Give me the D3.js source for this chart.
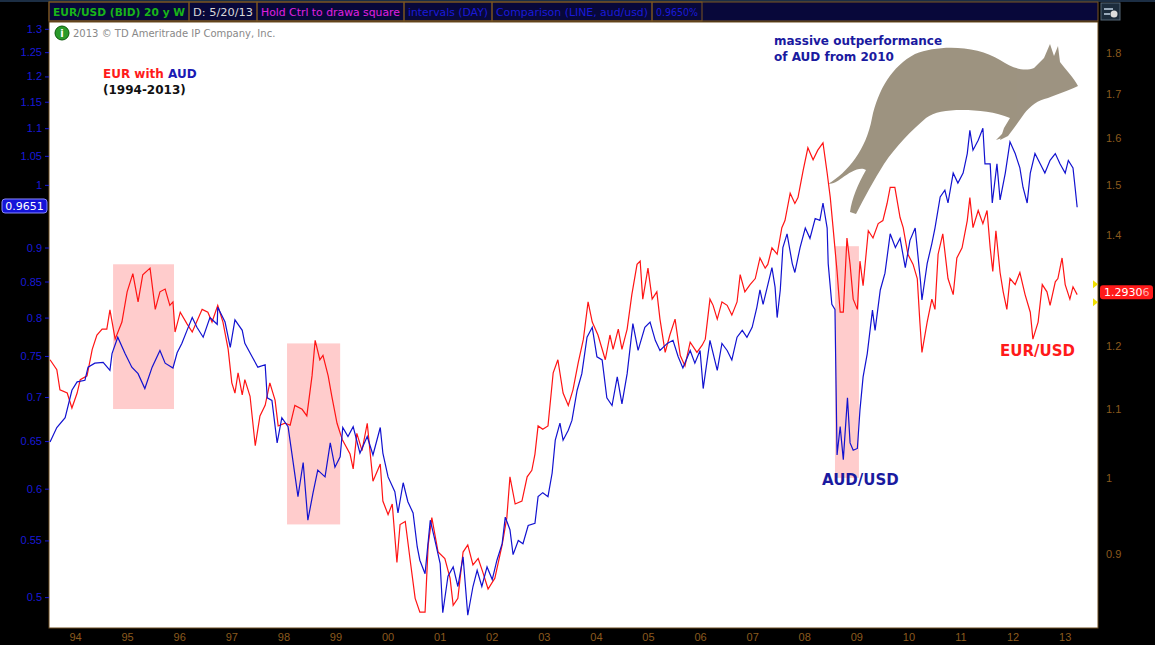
<!DOCTYPE html>
<html>
<head>
<meta charset="utf-8">
<script src="https://cdn.jsdelivr.net/npm/d3@7"></script>
<style>
  body { margin: 0; background: #000; }
  svg { display: block; font-family: "DejaVu Sans", sans-serif; }
</style>
</head>
<body>
<svg width="1155" height="645"></svg>
<script>
// AUD/USD (left axis)
var audYears = [1993.52,1993.65,1993.81,1993.94,1994.04,1994.19,1994.25,1994.38,1994.54,1994.67,1994.71,1994.82,1994.96,1995.09,1995.21,1995.34,1995.48,1995.63,1995.73,1995.88,1995.96,1996.05,1996.15,1996.25,1996.34,1996.46,1996.59,1996.73,1996.74,1996.88,1996.98,1997.07,1997.21,1997.26,1997.40,1997.51,1997.65,1997.69,1997.78,1997.88,1997.97,1998.09,1998.18,1998.28,1998.38,1998.47,1998.57,1998.66,1998.80,1998.90,1998.99,1999.09,1999.14,
  1999.24,1999.34,1999.47,1999.61,1999.72,1999.86,1999.91,2000.01,2000.14,2000.20,2000.30,2000.39,2000.49,2000.57,2000.62,2000.72,2000.82,2000.91,2001.01,2001.06,2001.16,2001.26,2001.35,2001.45,2001.54,2001.64,2001.72,2001.81,2001.91,2002.01,2002.10,2002.20,2002.26,2002.35,2002.41,2002.51,2002.60,2002.70,2002.83,2002.89,2002.98,2003.08,2003.16,2003.22,2003.31,2003.37,2003.47,2003.54,2003.64,2003.73,
  2003.83,2003.93,2004.02,2004.12,2004.21,2004.31,2004.41,2004.50,2004.60,2004.71,2004.81,2004.94,2005.04,2005.14,2005.23,2005.37,2005.48,2005.58,2005.67,2005.81,2005.90,2006.00,2006.06,2006.19,2006.33,2006.42,2006.52,2006.61,2006.71,2006.81,2006.90,2007.00,2007.09,2007.15,2007.21,2007.29,2007.38,2007.44,2007.48,2007.54,2007.59,2007.67,2007.77,2007.82,2007.92,2008.02,2008.11,2008.21,2008.30,2008.36,2008.44,2008.46,2008.53,2008.59,
  2008.63,2008.69,2008.75,2008.83,2008.88,2008.94,2009.02,2009.07,2009.13,2009.21,2009.31,2009.36,2009.46,2009.55,2009.65,2009.75,2009.84,2009.94,2010.03,2010.13,2010.23,2010.26,2010.36,2010.45,2010.51,2010.61,2010.70,2010.76,2010.86,2010.95,2011.05,2011.13,2011.18,2011.24,2011.34,2011.43,2011.47,2011.57,2011.61,2011.70,2011.76,2011.86,2011.95,2012.05,2012.14,2012.20,2012.28,2012.34,2012.43,2012.53,2012.62,2012.72,2012.82,2012.91,2013.01,2013.07,2013.16,2013.20,2013.24]
var audValues = [0.649,0.665,0.676,0.708,0.718,0.720,0.736,0.741,0.742,0.732,0.753,0.774,0.753,0.736,0.728,0.710,0.736,0.757,0.741,0.735,0.754,0.766,0.783,0.800,0.787,0.774,0.800,0.791,0.814,0.794,0.761,0.797,0.783,0.766,0.749,0.736,0.739,0.699,0.696,0.648,0.676,0.666,0.630,0.592,0.627,0.569,0.596,0.619,0.612,0.648,0.622,0.633,0.665,
  0.655,0.666,0.637,0.655,0.635,0.665,0.637,0.612,0.597,0.576,0.606,0.587,0.576,0.544,0.532,0.520,0.569,0.550,0.529,0.487,0.518,0.526,0.509,0.535,0.485,0.509,0.523,0.509,0.526,0.515,0.532,0.547,0.572,0.560,0.537,0.550,0.547,0.564,0.566,0.592,0.596,0.592,0.616,0.651,0.670,0.651,0.662,0.673,0.708,0.728,
  0.774,0.787,0.749,0.745,0.699,0.690,0.724,0.692,0.728,0.792,0.757,0.787,0.794,0.770,0.757,0.766,0.770,0.749,0.735,0.757,0.741,0.757,0.710,0.770,0.732,0.766,0.757,0.745,0.774,0.783,0.774,0.787,0.814,0.838,0.818,0.842,0.870,0.842,0.800,0.838,0.900,0.921,0.876,0.863,0.900,0.930,0.914,0.945,0.942,0.970,0.930,0.876,0.818,0.811,
  0.635,0.666,0.630,0.699,0.648,0.640,0.642,0.685,0.724,0.753,0.810,0.783,0.838,0.862,0.921,0.900,0.914,0.870,0.911,0.930,0.852,0.824,0.876,0.906,0.930,0.980,0.991,0.970,1.020,1.003,1.020,1.054,1.096,1.060,1.078,1.100,1.036,1.036,0.970,1.036,0.975,1.020,1.075,1.054,1.029,0.996,0.970,1.020,1.054,1.036,1.020,1.042,1.054,1.036,1.020,1.042,1.029,0.996,0.963]

// EUR/USD (right axis)
var eurYears = [1993.52,1993.65,1993.71,1993.85,1993.94,1994.04,1994.10,1994.23,1994.33,1994.42,1994.52,1994.61,1994.67,1994.77,1994.90,1995.00,1995.11,1995.21,1995.30,1995.44,1995.54,1995.63,1995.73,1995.82,1995.88,1995.92,1996.02,1996.15,1996.25,1996.44,1996.55,1996.63,1996.74,1996.84,1996.94,1997.01,1997.07,1997.13,1997.21,1997.26,1997.36,1997.46,1997.55,1997.65,1997.74,1997.84,1997.90,1998.03,1998.13,1998.22,1998.36,1998.45,1998.55,1998.61,1998.70,1998.76,1998.86,1998.93,1999.03,1999.13,
  1999.28,1999.34,1999.41,1999.51,1999.61,1999.72,1999.86,1999.91,2000.01,2000.09,2000.18,2000.24,2000.34,2000.43,2000.53,2000.62,2000.72,2000.78,2000.85,2000.97,2001.10,2001.20,2001.26,2001.35,2001.45,2001.54,2001.64,2001.74,2001.83,2001.93,2002.06,2002.20,2002.29,2002.35,2002.45,2002.58,2002.68,2002.77,2002.83,2002.89,2002.98,2003.08,2003.18,2003.27,2003.37,2003.47,2003.56,2003.66,2003.76,2003.85,2003.93,
  2004.04,2004.18,2004.27,2004.33,2004.43,2004.50,2004.60,2004.69,2004.79,2004.85,2004.90,2005.00,2005.08,2005.17,2005.23,2005.33,2005.42,2005.52,2005.62,2005.71,2005.81,2005.94,2006.04,2006.10,2006.19,2006.25,2006.33,2006.42,2006.52,2006.61,2006.71,2006.77,2006.86,2006.96,2007.06,2007.15,2007.25,2007.30,2007.38,2007.48,2007.57,2007.63,2007.73,2007.82,2007.88,2007.98,2008.07,2008.17,2008.26,2008.36,2008.44,2008.50,2008.55,2008.63,2008.69,2008.75,2008.82,2008.88,2008.94,
  2009.02,2009.07,2009.13,2009.23,2009.32,2009.42,2009.51,2009.59,2009.65,2009.74,2009.84,2009.90,2009.99,2010.09,2010.17,2010.22,2010.26,2010.36,2010.45,2010.51,2010.57,2010.66,2010.76,2010.86,2010.93,2011.03,2011.13,2011.18,2011.24,2011.34,2011.43,2011.51,2011.57,2011.62,2011.68,2011.76,2011.82,2011.89,2011.95,2012.05,2012.14,2012.24,2012.34,2012.39,2012.49,2012.57,2012.66,2012.72,2012.82,2012.87,2012.95,2013.01,2013.10,2013.16,2013.24]
var eurValues = [1.178,1.162,1.130,1.125,1.102,1.125,1.146,1.152,1.195,1.219,1.229,1.229,1.262,1.212,1.241,1.294,1.327,1.276,1.325,1.337,1.263,1.294,1.299,1.270,1.276,1.224,1.258,1.238,1.224,1.263,1.258,1.241,1.270,1.241,1.195,1.141,1.125,1.157,1.122,1.146,1.120,1.046,1.090,1.106,1.141,1.114,1.075,1.079,1.076,1.106,1.100,1.090,1.152,1.210,1.178,1.185,1.152,1.120,1.079,1.055,
  1.034,1.013,1.064,1.039,1.079,0.996,1.020,0.969,0.951,0.965,0.890,0.938,0.942,0.895,0.847,0.831,0.831,0.912,0.947,0.903,0.895,0.871,0.839,0.847,0.903,0.912,0.887,0.895,0.878,0.858,0.871,0.912,0.947,1.002,0.965,0.969,1.002,1.011,1.034,1.075,1.070,1.075,1.157,1.178,1.125,1.106,1.130,1.173,1.212,1.276,1.241,
  1.219,1.178,1.219,1.195,1.229,1.195,1.229,1.289,1.344,1.350,1.281,1.337,1.281,1.294,1.246,1.190,1.219,1.246,1.185,1.168,1.207,1.190,1.202,1.212,1.281,1.270,1.246,1.276,1.270,1.253,1.276,1.325,1.294,1.307,1.318,1.356,1.337,1.344,1.375,1.363,1.414,1.428,1.483,1.462,1.474,1.531,1.579,1.553,1.574,1.590,1.525,1.474,1.418,1.331,1.258,1.258,1.394,1.344,1.281,
  1.263,1.350,1.305,1.408,1.394,1.422,1.428,1.462,1.495,1.495,1.434,1.414,1.363,1.344,1.318,1.241,1.190,1.241,1.281,1.263,1.363,1.402,1.318,1.289,1.356,1.375,1.428,1.474,1.414,1.448,1.422,1.448,1.375,1.331,1.408,1.329,1.294,1.263,1.318,1.307,1.329,1.289,1.258,1.212,1.241,1.307,1.294,1.270,1.312,1.318,1.356,1.307,1.281,1.303,1.289]

var yearTicks = d3.range(1994, 2014)
// 0.95 and 1.3 sit under the last-value labels
var leftTicks = [0.5,0.55,0.6,0.65,0.7,0.75,0.8,0.85,0.9,1,1.05,1.1,1.15,1.2,1.25,1.3]
var rightTicks = [0.9,1,1.1,1.2,1.4,1.5,1.6,1.7,1.8]

// highlighted periods: [start year, end year, AUD top, AUD bottom]
var boxes = [[1994.73,1995.90,0.875,0.686],[1998.07,1999.09,0.766,0.565],[2008.59,2009.05,0.902,0.611]]

var headerCells = [
  {text: 'EUR/USD (BID) 20 y W', color: '#19b419', w: 140, bold: true},
  {text: 'D: 5/20/13', color: '#d8d8d8', w: 68},
  {text: 'Hold Ctrl to drawa square', color: '#e020e0', w: 147},
  {text: 'intervals (DAY)', color: '#1a1ad8', w: 88},
  {text: 'Comparison (LINE, aud/usd)', color: '#1a1ad8', w: 160},
  {text: '0.9650%', color: '#1a1ad8', w: 50}
]

var L = 49, R = 1098, T = 22, B = 628
var svg = d3.select('svg')

var x = d3.scaleLinear().domain([1993.5, 2013.64]).range([L, R])
var yAud = d3.scaleLog().domain([0.4747, 1.315]).range([B, T])
var yEur = d3.scaleLog().domain([0.813, 1.879]).range([B, T])

svg.append('rect').attr('width', 1155).attr('height', 645).attr('fill', '#000')

// header bar
svg.append('rect').attr('x', 0).attr('y', 0).attr('width', 1155).attr('height', 2).attr('fill', '#1c2e44')
svg.append('rect').attr('x', L).attr('y', 2).attr('width', R - L).attr('height', 19)
  .attr('fill', '#08083a').attr('stroke', '#7a5520')
var cx = L
headerCells.forEach(function(c) {
  svg.append('rect').attr('x', cx).attr('y', 2).attr('width', c.w).attr('height', 19)
    .attr('fill', 'none').attr('stroke', '#7a5520')
  svg.append('text').attr('x', cx + 4).attr('y', 16).attr('fill', c.color)
    .attr('font-size', 11).attr('font-weight', c.bold ? 'bold' : 'normal')
    .attr('textLength', c.w - 8).attr('lengthAdjust', 'spacingAndGlyphs').text(c.text)
  cx += c.w
})
svg.append('rect').attr('x', 1101).attr('y', 3).attr('width', 19).attr('height', 17)
  .attr('fill', '#1c2c3c').attr('stroke', '#556677')
svg.append('path').attr('d', 'M1104,9h9M1104,14h6').attr('stroke', '#9ab').attr('stroke-width', 2)
svg.append('circle').attr('cx', 1114).attr('cy', 14).attr('r', 3.5).attr('fill', '#ddd')

// plot area
svg.append('rect').attr('x', L).attr('y', T).attr('width', R - L).attr('height', B - T)
  .attr('fill', '#fff').attr('stroke', '#6b4a1e')

svg.append('g').selectAll('rect').data(boxes).enter().append('rect')
  .attr('x', d => x(d[0])).attr('width', d => x(d[1]) - x(d[0]))
  .attr('y', d => yAud(d[2])).attr('height', d => yAud(d[3]) - yAud(d[2]))
  .attr('fill', '#ffcccc')

// kangaroo (decoration)
var roo = svg.append('g').attr('fill', '#958a76').attr('opacity', 0.92)
roo.append('path')
  .attr('d', 'M828,184 C848,172 866,150 872,118 C878,90 892,66 915,54 C940,44 978,46 1000,60 C1012,68 1024,72 1034,68 L1044,58 L1050,44 L1054,56 L1058,46 L1060,62 C1066,70 1074,78 1078,86 C1070,90 1058,94 1048,98 C1038,100 1030,106 1024,114 L1014,128 L1008,136 L1000,140 L1004,128 L1010,118 C996,112 978,110 962,110 C946,110 934,112 926,118 C912,130 896,146 884,164 C874,180 864,198 856,214 L850,212 C852,198 858,184 866,170 C860,166 850,172 842,178 C838,181 833,184 828,184 Z')
roo.append('path').attr('d', 'M1002,134 L996,140 L1002,138 Z')

var audLine = d3.line().x((d, i) => x(audYears[i])).y(d => yAud(d))
var eurLine = d3.line().x((d, i) => x(eurYears[i])).y(d => yEur(d))
svg.append('path').datum(eurValues).attr('d', eurLine).attr('fill', 'none')
  .attr('stroke', '#ff1414').attr('stroke-width', 1.2)
svg.append('path').datum(audValues).attr('d', audLine).attr('fill', 'none')
  .attr('stroke', '#1212d0').attr('stroke-width', 1.2)

// axes
var leftAxis = svg.append('g').attr('transform', 'translate(' + L + ',0)')
  .call(d3.axisLeft(yAud).tickValues(leftTicks).tickFormat(d => String(+d.toFixed(2))).tickSize(4))
leftAxis.select('.domain').remove()
leftAxis.selectAll('line').attr('stroke', '#1a1ad8')
leftAxis.selectAll('text').attr('fill', '#1a1ad8').attr('font-size', 11)

var rightAxis = svg.append('g').attr('transform', 'translate(' + R + ',0)')
  .call(d3.axisRight(yEur).tickValues(rightTicks).tickFormat(d => String(+d.toFixed(1))).tickSize(0).tickPadding(8))
rightAxis.select('.domain').remove()
rightAxis.selectAll('text').attr('fill', '#8b5a1e').attr('font-size', 11)

var xAxis = svg.append('g').attr('transform', 'translate(0,' + B + ')')
  .call(d3.axisBottom(x).tickValues(yearTicks).tickFormat(d => String(d).slice(2)).tickSize(0).tickPadding(5))
xAxis.select('.domain').remove()
xAxis.selectAll('text').attr('fill', '#8b5a1e').attr('font-size', 11)

// last value labels
svg.append('rect').attr('x', 2).attr('y', yAud(0.9651) - 7).attr('width', 45).attr('height', 14)
  .attr('rx', 3).attr('fill', '#1414d8').attr('stroke', '#8888ff')
svg.append('text').attr('x', 24.5).attr('y', yAud(0.9651) + 4).attr('text-anchor', 'middle')
  .attr('fill', '#fff').attr('font-size', 11).text('0.9651')
svg.append('rect').attr('x', 1100).attr('y', yEur(1.2930) - 7).attr('width', 53).attr('height', 14)
  .attr('rx', 3).attr('fill', '#ff1a1a')
svg.append('text').attr('x', 1104).attr('y', yEur(1.2930) + 4).attr('fill', '#fff').attr('font-size', 11)
  .html('1.2930<tspan fill="#ffaaaa">6</tspan>')
svg.append('path').attr('d', 'M1093,' + (yEur(1.2930) - 12) + 'l5,4l-5,4z M1093,' + (yEur(1.2930) + 6) + 'l5,4l-5,4z')
  .attr('fill', '#f0e000')

// info line
svg.append('circle').attr('cx', 62).attr('cy', 33).attr('r', 7).attr('fill', '#2a9a2a').attr('stroke', '#0a5a0a')
svg.append('text').attr('x', 62).attr('y', 37).attr('text-anchor', 'middle').attr('fill', '#fff')
  .attr('font-size', 10).attr('font-weight', 'bold').text('i')
svg.append('text').attr('x', 73).attr('y', 37).attr('fill', '#888').attr('font-size', 10)
  .text('2013 © TD Ameritrade IP Company, Inc.')

// annotations
var t1 = svg.append('text').attr('x', 103).attr('y', 78).attr('font-size', 12).attr('font-weight', 'bold')
t1.append('tspan').attr('fill', '#ff1a1a').text('EUR with ')
t1.append('tspan').attr('fill', '#1a1ab4').text('AUD')
svg.append('text').attr('x', 103).attr('y', 94).attr('font-size', 12).attr('font-weight', 'bold')
  .attr('fill', '#111').text('(1994-2013)')
svg.append('text').attr('x', 774).attr('y', 45).attr('font-size', 12).attr('font-weight', 'bold')
  .attr('fill', '#1a1aa0').text('massive outperformance')
svg.append('text').attr('x', 774).attr('y', 61).attr('font-size', 12).attr('font-weight', 'bold')
  .attr('fill', '#1a1aa0').text('of AUD  from 2010')
svg.append('text').attr('x', 1000).attr('y', 356).attr('font-size', 15).attr('font-weight', 'bold')
  .attr('fill', '#ff1a1a').text('EUR/USD')
svg.append('text').attr('x', 822).attr('y', 485).attr('font-size', 15).attr('font-weight', 'bold')
  .attr('fill', '#1a1aa0').text('AUD/USD')
</script>
</body>
</html>
